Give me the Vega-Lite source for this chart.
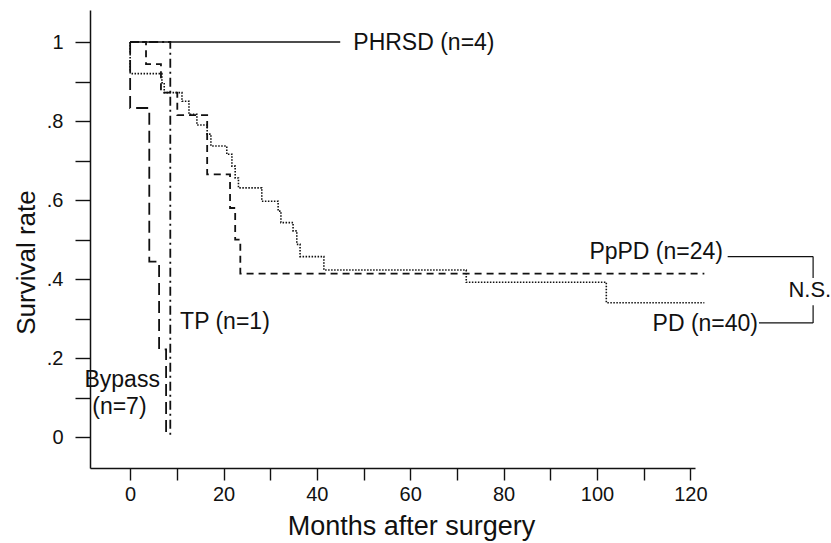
{
  "$schema": "https://vega.github.io/schema/vega-lite/v6.json",
  "width": 605,
  "height": 458,
  "autosize": "none",
  "padding": {"left": 90, "top": 10, "right": 136, "bottom": 75},
  "background": "white",
  "config": {
    "font": "Liberation Sans",
    "view": {"stroke": null},
    "axis": {"grid": false, "domainColor": "#111", "domainWidth": 1.5, "tickColor": "#111", "tickWidth": 1.4, "labelColor": "#111", "labelFont": "Liberation Sans", "labelFontSize": 20, "titleFont": "Liberation Sans", "titleFontSize": 26, "titleFontWeight": "normal", "titleColor": "#111", "labelOverlap": false, "labelFlush": false}
  },
  "datasets": {
    "km": [
      {"group": "PHRSD", "i": 0, "t": 0, "s": 1},
      {"group": "PHRSD", "i": 1, "t": 45, "s": 1},
      {"group": "Bypass", "i": 0, "t": 0, "s": 1},
      {"group": "Bypass", "i": 1, "t": 0, "s": 0.833},
      {"group": "Bypass", "i": 2, "t": 4.1, "s": 0.444},
      {"group": "Bypass", "i": 3, "t": 6.2, "s": 0.222},
      {"group": "Bypass", "i": 4, "t": 7.7, "s": 0},
      {"group": "TP", "i": 0, "t": 0, "s": 1},
      {"group": "TP", "i": 1, "t": 8.6, "s": 0},
      {"group": "PpPD", "i": 0, "t": 0, "s": 1},
      {"group": "PpPD", "i": 1, "t": 3.4, "s": 0.944},
      {"group": "PpPD", "i": 2, "t": 6.6, "s": 0.872},
      {"group": "PpPD", "i": 3, "t": 10.1, "s": 0.815},
      {"group": "PpPD", "i": 4, "t": 16.5, "s": 0.665},
      {"group": "PpPD", "i": 5, "t": 21.4, "s": 0.58},
      {"group": "PpPD", "i": 6, "t": 22.5, "s": 0.5},
      {"group": "PpPD", "i": 7, "t": 23.6, "s": 0.414},
      {"group": "PpPD", "i": 8, "t": 123, "s": 0.414},
      {"group": "PD", "i": 0, "t": 0, "s": 1},
      {"group": "PD", "i": 1, "t": 0, "s": 0.92},
      {"group": "PD", "i": 2, "t": 6.8, "s": 0.897},
      {"group": "PD", "i": 3, "t": 7.3, "s": 0.872},
      {"group": "PD", "i": 4, "t": 11.1, "s": 0.85},
      {"group": "PD", "i": 5, "t": 12.6, "s": 0.817},
      {"group": "PD", "i": 6, "t": 14.3, "s": 0.79},
      {"group": "PD", "i": 7, "t": 16.5, "s": 0.767},
      {"group": "PD", "i": 8, "t": 17.3, "s": 0.737},
      {"group": "PD", "i": 9, "t": 20.7, "s": 0.716},
      {"group": "PD", "i": 10, "t": 21.8, "s": 0.686},
      {"group": "PD", "i": 11, "t": 22.5, "s": 0.656},
      {"group": "PD", "i": 12, "t": 23.2, "s": 0.631},
      {"group": "PD", "i": 13, "t": 28.2, "s": 0.597},
      {"group": "PD", "i": 14, "t": 31.7, "s": 0.572},
      {"group": "PD", "i": 15, "t": 32.3, "s": 0.543},
      {"group": "PD", "i": 16, "t": 34.9, "s": 0.522},
      {"group": "PD", "i": 17, "t": 35.7, "s": 0.488},
      {"group": "PD", "i": 18, "t": 36.4, "s": 0.457},
      {"group": "PD", "i": 19, "t": 41.5, "s": 0.423},
      {"group": "PD", "i": 20, "t": 72, "s": 0.392},
      {"group": "PD", "i": 21, "t": 102, "s": 0.34},
      {"group": "PD", "i": 22, "t": 123, "s": 0.34}
    ]
  },
  "layer": [
    {
      "data": {"name": "km"},
      "transform": [{"filter": "datum.group == 'PHRSD'"}],
      "mark": {"type": "line", "interpolate": "step-after", "color": "#111", "strokeWidth": 1.3},
      "encoding": {
        "x": {"field": "t", "type": "quantitative", "scale": {"domain": [-8.6, 121], "nice": false, "zero": false},
          "axis": {"values": [0, 10, 20, 30, 40, 50, 60, 70, 80, 90, 100, 110, 120], "labelExpr": "datum.value % 20 == 0 ? datum.label : ''", "tickSize": 12, "labelPadding": 4, "title": "Months after surgery", "titleFontSize": 27, "titlePadding": 9, "titleX": 321,
            "encode": {"ticks": {"update": {"y2": {"signal": "datum.value % 20 == 0 ? 12 : 5"}}}}}},
        "y": {"field": "s", "type": "quantitative", "scale": {"domain": [-0.078, 1.081], "nice": false, "zero": false},
          "axis": {"values": [0, 0.1, 0.2, 0.3, 0.4, 0.5, 0.6, 0.7, 0.8, 0.9, 1], "labelExpr": "datum.value == 0 ? '0' : datum.value == 1 ? '1' : (round(datum.value * 10) % 2 == 0 ? replace(format(datum.value, '.1f'), '0.', '.') : '')", "tickSize": 15, "labelPadding": 12, "title": "Survival rate", "titleX": -51, "titleY": 252,
            "encode": {"ticks": {"update": {"x2": {"signal": "round(datum.value * 10) % 2 == 0 ? -15 : -7"}}}}}},
        "order": {"field": "i"}
      }
    },
    {
      "data": {"name": "km"},
      "transform": [{"filter": "datum.group == 'Bypass'"}],
      "mark": {"type": "line", "interpolate": "step-after", "color": "#111", "strokeWidth": 1.8, "strokeDash": [12, 6]},
      "encoding": {
        "x": {"field": "t", "type": "quantitative", "scale": {"domain": [-8.6, 121], "nice": false, "zero": false}},
        "y": {"field": "s", "type": "quantitative", "scale": {"domain": [-0.078, 1.081], "nice": false, "zero": false}},
        "order": {"field": "i"}
      }
    },
    {
      "data": {"name": "km"},
      "transform": [{"filter": "datum.group == 'TP'"}],
      "mark": {"type": "line", "interpolate": "step-after", "color": "#111", "strokeWidth": 1.8, "strokeDash": [9, 4, 2, 4]},
      "encoding": {
        "x": {"field": "t", "type": "quantitative", "scale": {"domain": [-8.6, 121], "nice": false, "zero": false}},
        "y": {"field": "s", "type": "quantitative", "scale": {"domain": [-0.078, 1.081], "nice": false, "zero": false}},
        "order": {"field": "i"}
      }
    },
    {
      "data": {"name": "km"},
      "transform": [{"filter": "datum.group == 'PpPD'"}],
      "mark": {"type": "line", "interpolate": "step-after", "color": "#111", "strokeWidth": 1.8, "strokeDash": [7, 5]},
      "encoding": {
        "x": {"field": "t", "type": "quantitative", "scale": {"domain": [-8.6, 121], "nice": false, "zero": false}},
        "y": {"field": "s", "type": "quantitative", "scale": {"domain": [-0.078, 1.081], "nice": false, "zero": false}},
        "order": {"field": "i"}
      }
    },
    {
      "data": {"name": "km"},
      "transform": [{"filter": "datum.group == 'PD'"}],
      "mark": {"type": "line", "interpolate": "step-after", "color": "#111", "strokeWidth": 1.6, "strokeDash": [1.5, 1.5]},
      "encoding": {
        "x": {"field": "t", "type": "quantitative", "scale": {"domain": [-8.6, 121], "nice": false, "zero": false}},
        "y": {"field": "s", "type": "quantitative", "scale": {"domain": [-0.078, 1.081], "nice": false, "zero": false}},
        "order": {"field": "i"}
      }
    },
    {
      "data": {"values": [{}]},
      "mark": {"type": "text", "text": "PHRSD (n=4)", "align": "left", "baseline": "middle", "fontSize": 23, "color": "#111"},
      "encoding": {"x": {"datum": 47.8, "type": "quantitative"}, "y": {"datum": 0.997, "type": "quantitative"}}
    },
    {
      "data": {"values": [{}]},
      "mark": {"type": "text", "text": "PpPD (n=24)", "align": "right", "baseline": "middle", "fontSize": 23, "color": "#111"},
      "encoding": {"x": {"datum": 127, "type": "quantitative"}, "y": {"datum": 0.468, "type": "quantitative"}}
    },
    {
      "data": {"values": [{}]},
      "mark": {"type": "text", "text": "PD (n=40)", "align": "right", "baseline": "middle", "fontSize": 23, "color": "#111"},
      "encoding": {"x": {"datum": 134.5, "type": "quantitative"}, "y": {"datum": 0.286, "type": "quantitative"}}
    },
    {
      "data": {"values": [{}]},
      "mark": {"type": "text", "text": "N.S.", "align": "center", "baseline": "middle", "fontSize": 22, "color": "#111"},
      "encoding": {"x": {"datum": 145.6, "type": "quantitative"}, "y": {"datum": 0.372, "type": "quantitative"}}
    },
    {
      "data": {"values": [{}]},
      "mark": {"type": "text", "text": "TP (n=1)", "align": "left", "baseline": "middle", "fontSize": 23, "color": "#111"},
      "encoding": {"x": {"datum": 10.7, "type": "quantitative"}, "y": {"datum": 0.292, "type": "quantitative"}}
    },
    {
      "data": {"values": [{}]},
      "mark": {"type": "text", "text": "Bypass", "align": "center", "baseline": "middle", "fontSize": 23, "color": "#111"},
      "encoding": {"x": {"datum": -1.7, "type": "quantitative"}, "y": {"datum": 0.144, "type": "quantitative"}}
    },
    {
      "data": {"values": [{}]},
      "mark": {"type": "text", "text": "(n=7)", "align": "center", "baseline": "middle", "fontSize": 23, "color": "#111"},
      "encoding": {"x": {"datum": -2.3, "type": "quantitative"}, "y": {"datum": 0.077, "type": "quantitative"}}
    },
    {
      "data": {"values": [{}]},
      "mark": {"type": "rule", "color": "#111", "strokeWidth": 1.2},
      "encoding": {"x": {"datum": 128, "type": "quantitative"}, "x2": {"datum": 146.3}, "y": {"datum": 0.457, "type": "quantitative"}}
    },
    {
      "data": {"values": [{}]},
      "mark": {"type": "rule", "color": "#111", "strokeWidth": 1.2},
      "encoding": {"x": {"datum": 146.3, "type": "quantitative"}, "y": {"datum": 0.457, "type": "quantitative"}, "y2": {"datum": 0.403}}
    },
    {
      "data": {"values": [{}]},
      "mark": {"type": "rule", "color": "#111", "strokeWidth": 1.2},
      "encoding": {"x": {"datum": 146.3, "type": "quantitative"}, "y": {"datum": 0.334, "type": "quantitative"}, "y2": {"datum": 0.289}}
    },
    {
      "data": {"values": [{}]},
      "mark": {"type": "rule", "color": "#111", "strokeWidth": 1.2},
      "encoding": {"x": {"datum": 134.7, "type": "quantitative"}, "x2": {"datum": 146.3}, "y": {"datum": 0.289, "type": "quantitative"}}
    }
  ]
}
